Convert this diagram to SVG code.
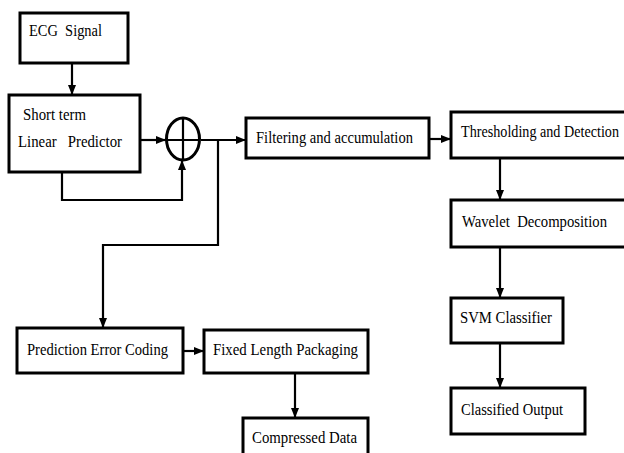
<svg xmlns="http://www.w3.org/2000/svg" width="624" height="453" viewBox="0 0 624 453">
<style>
.box{fill:#fff;stroke:#000;stroke-width:3}
.ln{fill:none;stroke:#000;stroke-width:2.2}
text{font-family:'Liberation Serif','DejaVu Serif','Times New Roman',serif;font-size:16.5px;fill:#000}
</style>
<defs>
<marker id="ah" markerUnits="userSpaceOnUse" markerWidth="10" markerHeight="10" viewBox="0 0 10 10" refX="10" refY="5" orient="auto">
<path d="M0,1 L10,5 L0,9 Z" fill="#000"/>
</marker>
</defs>
<rect width="624" height="453" fill="#fff"/>
<g id="connectors">
<path class="ln" d="M72,63 V95" marker-end="url(#ah)"/>
<path class="ln" d="M140,140 H166" marker-end="url(#ah)"/>
<path class="ln" d="M62,173 V200 H182 V160" marker-end="url(#ah)"/>
<path class="ln" d="M201,140 H246" marker-end="url(#ah)"/>
<path class="ln" d="M218,140 V245 H103 V328" marker-end="url(#ah)"/>
<path class="ln" d="M429,139 H451" marker-end="url(#ah)"/>
<path class="ln" d="M500,158 V200" marker-end="url(#ah)"/>
<path class="ln" d="M500,247 V298" marker-end="url(#ah)"/>
<path class="ln" d="M500,343 V388" marker-end="url(#ah)"/>
<path class="ln" d="M183,351 H204" marker-end="url(#ah)"/>
<path class="ln" d="M295,373 V418" marker-end="url(#ah)"/>
</g>
<g id="ecg">
<rect class="box" x="20" y="13" width="108" height="50"/>
<text x="29" y="36" textLength="73" lengthAdjust="spacingAndGlyphs" xml:space="preserve">ECG  Signal</text>
</g>
<g id="predictor">
<rect class="box" x="9" y="95" width="131" height="77"/>
<text x="23" y="120" textLength="63" lengthAdjust="spacingAndGlyphs">Short term</text>
<text x="18" y="147" textLength="104" lengthAdjust="spacingAndGlyphs" xml:space="preserve">Linear   Predictor</text>
</g>
<g id="sum">
<ellipse cx="183" cy="139" rx="16.5" ry="21" fill="#fff" stroke="#000" stroke-width="3"/>
<path class="ln" d="M166,140 H200 M183,118 V160"/>
</g>
<g id="filtering">
<rect class="box" x="246" y="118" width="183" height="40"/>
<text x="256" y="143" textLength="157" lengthAdjust="spacingAndGlyphs">Filtering and accumulation</text>
</g>
<g id="thresholding">
<rect class="box" x="451" y="112" width="180" height="46"/>
<text x="461" y="137" textLength="158" lengthAdjust="spacingAndGlyphs">Thresholding and Detection</text>
</g>
<g id="wavelet">
<rect class="box" x="451" y="200" width="180" height="47"/>
<text x="462" y="227" textLength="145" lengthAdjust="spacingAndGlyphs" xml:space="preserve">Wavelet  Decomposition</text>
</g>
<g id="svm">
<rect class="box" x="451" y="298" width="112" height="45"/>
<text x="460" y="323" textLength="92" lengthAdjust="spacingAndGlyphs">SVM Classifier</text>
</g>
<g id="classified">
<rect class="box" x="451" y="388" width="134" height="46"/>
<text x="461" y="415" textLength="102" lengthAdjust="spacingAndGlyphs">Classified Output</text>
</g>
<g id="pec">
<rect class="box" x="17" y="328" width="166" height="45"/>
<text x="27" y="355" textLength="141" lengthAdjust="spacingAndGlyphs">Prediction Error Coding</text>
</g>
<g id="flp">
<rect class="box" x="204" y="330" width="164" height="43"/>
<text x="213" y="355" textLength="145" lengthAdjust="spacingAndGlyphs">Fixed Length Packaging</text>
</g>
<g id="compressed">
<rect class="box" x="243" y="418" width="125" height="40"/>
<text x="252" y="443" textLength="105" lengthAdjust="spacingAndGlyphs">Compressed Data</text>
</g>
</svg>
